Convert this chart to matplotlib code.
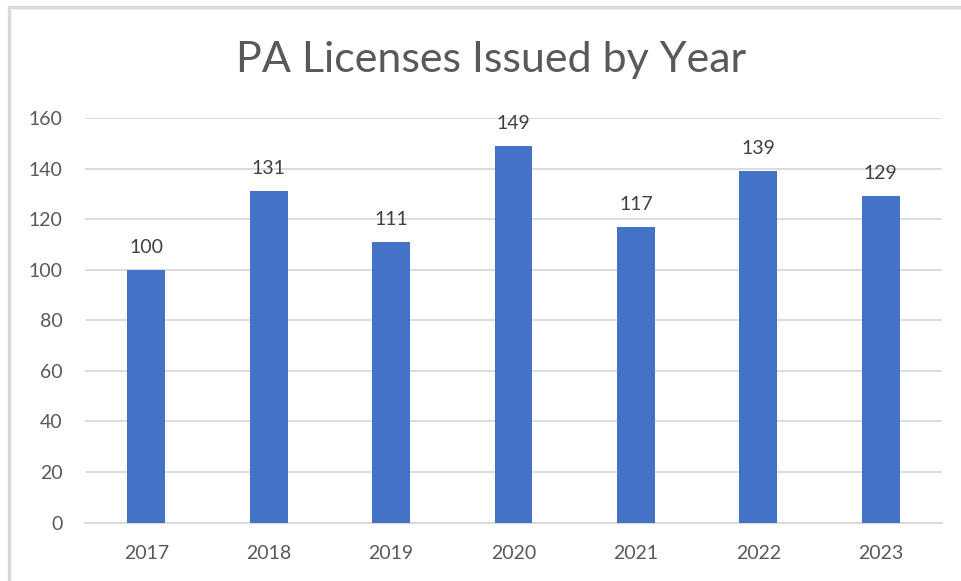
import matplotlib
matplotlib.use("Agg")
import matplotlib.pyplot as plt
from matplotlib.patches import Rectangle

years = ["2017", "2018", "2019", "2020", "2021", "2022", "2023"]
licenses = [100, 131, 111, 149, 117, 139, 129]
yticks = [0, 20, 40, 60, 80, 100, 120, 140, 160]

plt.rcParams['font.family'] = ['Lato', 'DejaVu Sans']

W, H = 961, 581
fig = plt.figure(figsize=(W / 100, H / 100), dpi=100)
fig.patch.set_facecolor("white")

# chart-area border (only top and left edges are inside the picture)
fig.patches.append(Rectangle((9 / W, -0.1), 1.2, 1.1 - 7 / H, transform=fig.transFigure,
                             fill=False, edgecolor="#d9d9d9", linewidth=2.5))

ax = fig.add_axes([85 / W, 1 - 522.5 / H, (942 - 85) / W, (522.5 - 118) / H])
x = range(len(years))
bars = ax.bar(x, licenses, width=0.31, color="#4472c4", zorder=3)

ax.set_xlim(-0.5, len(years) - 0.5)
ax.set_ylim(0, 160)
ax.set_yticks(yticks)
ax.set_xticks(list(x))
ax.set_xticklabels(years)
ax.grid(axis="y", color="#d9d9d9", linewidth=1.3, zorder=0)
for s in ["top", "right", "left"]:
    ax.spines[s].set_visible(False)
ax.spines["bottom"].set_color("#d9d9d9")
ax.spines["bottom"].set_linewidth(1.3)
ax.tick_params(length=0, labelsize=14, labelcolor="#595959")
ax.tick_params(axis="y", pad=16)
ax.tick_params(axis="x", pad=16)

for b, v in zip(bars, licenses):
    ax.annotate(str(v), (b.get_x() + b.get_width() / 2, v), xytext=(0, 10),
                textcoords="offset points", ha="center", va="bottom",
                fontsize=14, color="#404040")

fig.text(491 / W, 1 - 60 / H, "PA Licenses Issued by Year", ha="center", va="center",
         fontsize=31, color="#595959")

fig.savefig("out.png", dpi=100)
